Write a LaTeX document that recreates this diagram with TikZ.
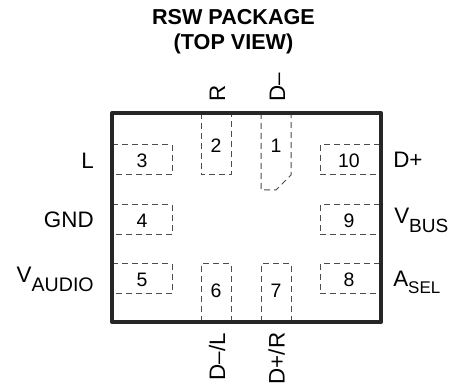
\documentclass[tikz,border=0pt]{standalone}
\usepackage{fontspec}
\setmainfont{Liberation Sans}
\newcommand{\sigsub}[3]{\raisebox{-#1pt}{\fontsize{#2}{16}\selectfont #3}}
\tikzset{
  pin/.style={draw=black!70,line width=0.75pt,dash pattern=on 4.5pt off 3pt},
  body/.style={draw=black!85,line width=3pt,line join=round},
  num/.style={font=\fontsize{14.6}{16}\selectfont},
  lbl/.style={font=\fontsize{16.8}{19}\selectfont,inner sep=0pt},
  title/.style={font=\fontsize{16.2}{18.75}\selectfont\bfseries,align=center,inner sep=0pt}
}
\begin{document}
\begin{tikzpicture}[x=0.75pt,y=-0.75pt]
  \useasboundingbox (0,0) rectangle (451,385);
  \node[title,anchor=base] (head) at (233.5,50) {RSW PACKAGE\\(TOP VIEW)};
  % pads
  \draw[pin] (112,145) -- (172,145) -- (172,175) -- (112,175);
  \draw[pin] (112,205) -- (172,205) -- (172,235) -- (112,235);
  \draw[pin] (112,264) -- (172,264) -- (172,294) -- (112,294);
  \draw[pin] (201,322) -- (201,264) -- (231,264) -- (231,322);
  \draw[pin] (261,322) -- (261,264) -- (291,264) -- (291,322);
  \draw[pin] (380,264) -- (320,264) -- (320,294) -- (380,294);
  \draw[pin] (380,205) -- (320,205) -- (320,235) -- (380,235);
  \draw[pin] (380,145) -- (320,145) -- (320,175) -- (380,175);
  \draw[pin] (201,113) -- (201,175) -- (231,175) -- (231,113);
  \draw[pin] (261,113) -- (261,190) -- (276,190) -- (291,175) -- (291,113);
  \draw[body] (112,113) rectangle (381,322);
  % numbers
  \node[num] (3) at (142,161) {3};
  \node[num] (4) at (142,221) {4};
  \node[num] (5) at (142,280) {5};
  \node[num] (6) at (216,291) {6};
  \node[num] (7) at (276,291) {7};
  \node[num] (8) at (349,280) {8};
  \node[num] (9) at (349,221) {9};
  \node[num] (10) at (349,161) {10};
  \node[num] (2) at (216,146) {2};
  \node[num] (1) at (276,146) {1};
  % signals
  \node[lbl,anchor=base east] (L) at (94,169) {L};
  \node[lbl,anchor=base east] (GND) at (94,228) {GND};
  \node[lbl,anchor=base east] (VAUDIO) at (94,283) {V\sigsub{6.75}{14.7}{AUDIO}};
  \node[lbl,anchor=base west] (DP) at (393,168) {D+};
  \node[lbl,anchor=base west] (VBUS) at (394,224) {V\sigsub{6}{14.3}{BUS}};
  \node[lbl,anchor=base west] (ASEL) at (393,287) {A\sigsub{5.25}{12.7}{SEL}};
  \node[lbl,rotate=90,anchor=base west] (R) at (225,102) {R};
  \node[lbl,rotate=90,anchor=base west] (DM) at (285,102) {D–};
  \node[lbl,rotate=90,anchor=base east] (DML) at (225,333) {D–/L};
  \node[lbl,rotate=90,anchor=base east] (DPR) at (284.5,332.5) {D+/R};
\end{tikzpicture}
\end{document}
